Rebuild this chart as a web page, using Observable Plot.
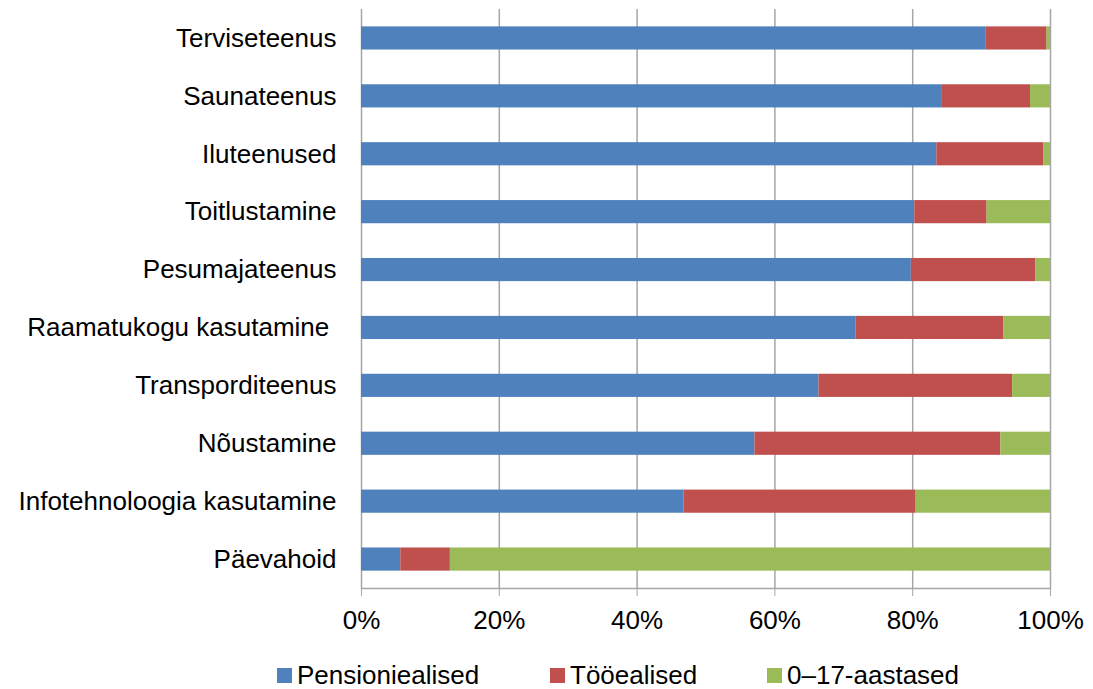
<!DOCTYPE html>
<html>
<head>
<meta charset="utf-8">
<script src="https://cdn.jsdelivr.net/npm/d3@7"></script>
<script src="https://cdn.jsdelivr.net/npm/@observablehq/plot@0.6"></script>
<style>
  html, body { margin: 0; padding: 0; background: #fff; }
  #wrap { position: relative; width: 1093px; height: 689px; font-family: "Liberation Sans", Arial, sans-serif; }
  #wrap svg text { white-space: pre; }
  .leg { position: absolute; top: 660px; height: 30px; display: flex; align-items: center; font-size: 26px; color: #000; }
  .sw { width: 15px; height: 15px; margin-right: 5px; }
</style>
</head>
<body>
<div id="wrap"></div>
<script>
const categories = [
  "Terviseteenus",
  "Saunateenus",
  "Iluteenused",
  "Toitlustamine",
  "Pesumajateenus",
  "Raamatukogu kasutamine ",
  "Transporditeenus",
  "Nõustamine",
  "Infotehnoloogia kasutamine",
  "Päevahoid"
];
const seriesNames = ["Pensioniealised", "Tööealised", "0–17-aastased"];
const seriesColors = ["#4f81bd", "#c0504d", "#9bbb59"];
const pensioniealised = [90.6, 84.2, 83.5, 80.3, 79.8, 71.8, 66.4, 57.1, 46.8, 5.7];
const tooealised      = [ 8.9, 12.9, 15.5, 10.5, 18.1, 21.4, 28.1, 35.7, 33.7, 7.2];
const noored          = [ 0.5,  2.9,  1.0,  9.2,  2.1,  6.8,  5.5,  7.2, 19.5, 87.1];
const xTicks = [0, 0.2, 0.4, 0.6, 0.8, 1];

const seriesValues = [pensioniealised, tooealised, noored];
const data = [];
categories.forEach((c, i) => {
  seriesNames.forEach((s, j) => data.push({cat: c, series: s, value: seriesValues[j][i]}));
});

const chart = Plot.plot({
  width: 1093,
  height: 640,
  marginLeft: 361,
  marginRight: 43,
  marginTop: 9,
  marginBottom: 52,
  style: {fontFamily: "'Liberation Sans', Arial, sans-serif", fontSize: "26px", color: "#000", background: "#fff"},
  x: {domain: [0, 1]},
  y: {domain: categories, paddingInner: 0.6, paddingOuter: 0.3, round: false},
  color: {domain: seriesNames, range: seriesColors},
  marks: [
    Plot.ruleX(xTicks, {stroke: "#a6a6a6", strokeWidth: 1.5}),
    Plot.barX(data, Plot.stackX({
      x: "value", y: "cat", fill: "series", offset: "normalize",
      order: seriesNames
    })),
    Plot.frame({anchor: "bottom", stroke: "#a6a6a6", strokeWidth: 1.5}),
    Plot.axisX({ticks: xTicks, tickFormat: d3.format(".0%"), tickSize: 8, tickPadding: 14, stroke: "#a6a6a6", fill: "#000", label: null}),
    Plot.axisY({tickSize: 0, tickPadding: 25, fill: "#000", label: null})
  ]
});
const wrap = document.getElementById("wrap");
wrap.appendChild(chart);

const legLefts = [277, 550, 767];
seriesNames.forEach((s, i) => {
  const d = document.createElement("div");
  d.className = "leg";
  d.style.left = legLefts[i] + "px";
  d.innerHTML = `<div class="sw" style="background:${seriesColors[i]}"></div><span>${s}</span>`;
  wrap.appendChild(d);
});
</script>
</body>
</html>
